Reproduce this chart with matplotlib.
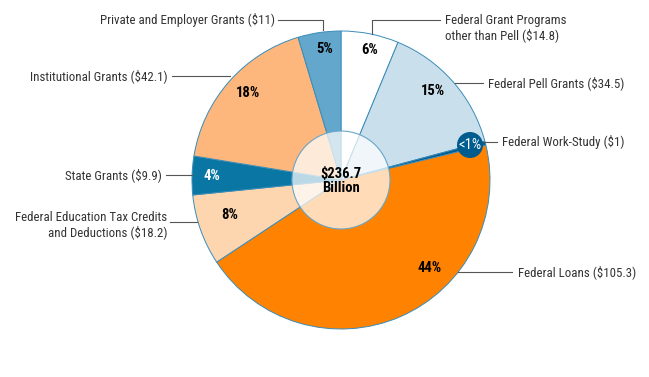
import matplotlib
matplotlib.use("Agg")
import matplotlib.pyplot as plt
from matplotlib.patches import Circle
from matplotlib import font_manager

names = {f.name for f in font_manager.fontManager.ttflist}
fam = [f for f in ["Liberation Sans Narrow", "Roboto Condensed", "Liberation Sans"] if f in names] + ["DejaVu Sans"]
plt.rcParams['font.family'] = fam

# ---- data ----
categories = ["Federal Grant Programs\nother than Pell", "Federal Pell Grants", "Federal Work-Study",
              "Federal Loans", "Federal Education Tax Credits\nand Deductions", "State Grants",
              "Institutional Grants", "Private and Employer Grants"]
values = [14.8, 34.5, 1.0, 105.3, 18.2, 9.9, 42.1, 11.0]
value_labels = ["$14.8", "$34.5", "$1", "$105.3", "$18.2", "$9.9", "$42.1", "$11"]
pct_labels = ["6%", "15%", "<1%", "44%", "8%", "4%", "18%", "5%"]
total_label = "$236.7\nBillion"

colors = ["#ffffff", "#cadfec", "#005b8f", "#ff8300", "#fdd5ae", "#0a76a4", "#fdb67b", "#63a8cc"]
pct_colors = ["black", "black", "white", "black", "black", "white", "black", "black"]

W, H = 649, 377
fig = plt.figure(figsize=(W / 100, H / 100), dpi=100)
ax = fig.add_axes([0, 0, 1, 1])

def Y(y):
    return H - y

cx, cy, R = 341, 180, 149
ax.pie(values, colors=colors, startangle=90, counterclock=False, center=(cx, Y(cy)), radius=R,
       wedgeprops=dict(edgecolor="#3a8cb9", linewidth=0.7), frame=True)
ax.set_xlim(0, W)
ax.set_ylim(0, H)
ax.set_aspect('equal')
ax.axis('off')

# inner translucent circle
ax.add_patch(Circle((cx, Y(cy)), 49, facecolor="white", alpha=0.72, edgecolor="none", zorder=3))
ax.add_patch(Circle((cx, Y(cy)), 49, facecolor="none", edgecolor="#6aa6c9", linewidth=0.8, zorder=4))
ax.text(cx, Y(181), total_label, ha="center", va="center", fontsize=10.5, fontweight="bold",
        linespacing=1.0, zorder=5)

# percentage label positions (layout)
pct_pos = [(370, 50), (433, 91), (470, 145), (430, 268), (230, 215), (212, 176), (248, 93), (325, 49)]
for i, (px, py) in enumerate(pct_pos):
    if i == 2:
        ax.add_patch(Circle((px, Y(py)), 13, facecolor="#005b8f", edgecolor="none", zorder=5))
    ax.text(px, Y(py), pct_labels[i], ha="center", va="center", fontsize=10.5,
            fontweight="bold" if i != 2 else "normal", color=pct_colors[i], zorder=6)

# callout labels and leader lines (layout)
lc = "#555555"
lw = 0.8
fs = 9.3
tc = "#333333"
# Federal grant other
ax.plot([372, 372, 440], [Y(34), Y(20), Y(20)], color=lc, lw=lw)
ax.text(445, Y(28), f"{categories[0]} ({value_labels[0]})", ha="left", va="center", fontsize=fs,
        color=tc, linespacing=1.05)
# Pell
ax.plot([455, 483], [Y(83), Y(83)], color=lc, lw=lw)
ax.text(488, Y(83), f"{categories[1]} ({value_labels[1]})", ha="left", va="center", fontsize=fs, color=tc)
# Work-Study
ax.plot([482, 497], [Y(142), Y(142)], color=lc, lw=lw, zorder=1)
ax.text(502, Y(142), f"{categories[2]} ({value_labels[2]})", ha="left", va="center", fontsize=fs, color=tc)
# Loans
ax.plot([458, 512], [Y(272), Y(272)], color=lc, lw=lw)
ax.text(518, Y(272), f"{categories[3]} ({value_labels[3]})", ha="left", va="center", fontsize=fs, color=tc)
# Tax credits
ax.plot([170, 197], [Y(222), Y(222)], color=lc, lw=lw)
ax.text(167, Y(225), f"{categories[4]} ({value_labels[4]})", ha="right", va="center", fontsize=fs,
        color=tc, linespacing=1.05, multialignment="right")
# State
ax.plot([166, 192], [Y(175), Y(175)], color=lc, lw=lw)
ax.text(162, Y(175), f"{categories[5]} ({value_labels[5]})", ha="right", va="center", fontsize=fs, color=tc)
# Institutional
ax.plot([172, 230], [Y(76), Y(76)], color=lc, lw=lw)
ax.text(168, Y(76), f"{categories[6]} ({value_labels[6]})", ha="right", va="center", fontsize=fs, color=tc)
# Private
ax.plot([278, 323, 323], [Y(20), Y(20), Y(30)], color=lc, lw=lw)
ax.text(275, Y(20), f"{categories[7]} ({value_labels[7]})", ha="right", va="center", fontsize=fs, color=tc)

fig.savefig("out.png", dpi=100)
